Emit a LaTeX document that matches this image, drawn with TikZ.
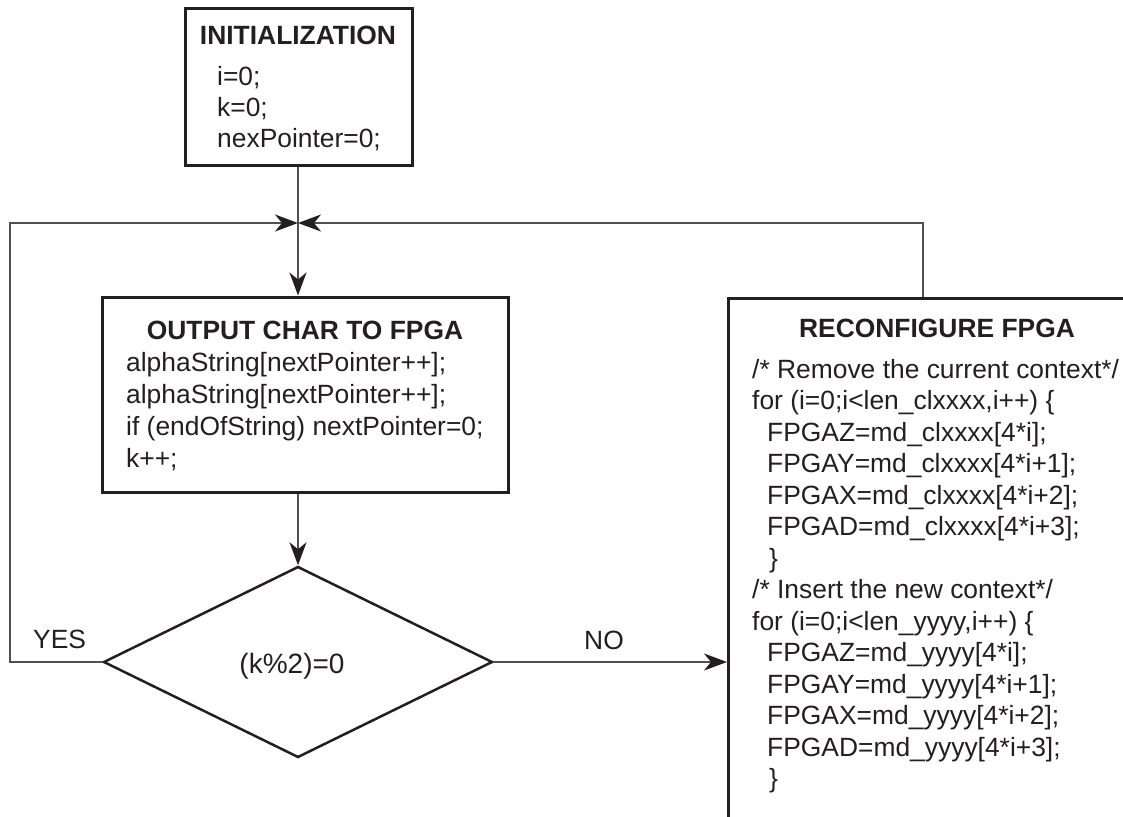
\documentclass[tikz,border=0pt]{standalone}
\usepackage{fontspec}
\setmainfont{Liberation Sans}
\usetikzlibrary{arrows.meta,shapes.geometric}
\definecolor{ink}{HTML}{231F20}
\definecolor{wire}{HTML}{505050}
\begin{document}
\begin{tikzpicture}[x=1pt,y=-1pt,
  every node/.style={text=ink,font=\fontsize{26.4}{31.5}\selectfont,inner sep=0pt},
  boxnode/.style={draw=ink,line width=3pt,rectangle,inner sep=0pt},
  headtxt/.style={font=\fontsize{26.4}{31.5}\selectfont\bfseries,anchor=base},
  bodytxt/.style={align=left,anchor=base west},
  decide/.style={draw=ink,line width=2.5pt,diamond,inner sep=0pt,minimum width=389pt,minimum height=191pt,aspect=2.04},
  conn/.style={draw=wire,line width=1.6pt,-{Stealth[length=23pt,width=17pt,inset=7pt,color=ink]}}
]
\useasboundingbox (0,0) rectangle (1123,816);
\clip (0,0) rectangle (1123,816);

% boxes
\node[boxnode,minimum width=227pt,minimum height=156pt] (init) at (298.5,87) {};
\node[boxnode,minimum width=406pt,minimum height=195pt] (output) at (305,394.5) {};
\node[boxnode,anchor=north west,minimum width=480pt,minimum height=600pt] (reconf) at (727,297) {};
\node[decide] (dia) at (298,662) {};
\node[anchor=base,font=\fontsize{28}{31.5}\selectfont] (diatxt) at (292,673) {(k\%2)=0};

% texts (base anchor = baseline of the last line)
\node[headtxt] (inithead) at (298,45) {INITIALIZATION};
\node[bodytxt,font=\fontsize{26.4}{31}\selectfont] (initbody) at (217,147) {i=0;\\k=0;\\nexPointer=0;};

\node[headtxt] (outhead) at (305,339) {OUTPUT CHAR TO FPGA};
\node[bodytxt,font=\fontsize{26.4}{32}\selectfont] (outbody) at (126,467) {alphaString[nextPointer++];\\alphaString[nextPointer++];\\if (endOfString) nextPointer=0;\\k++;};

\node[headtxt] (rchead) at (937,337) {RECONFIGURE FPGA};
\node[bodytxt] (rcbody) at (752,787.5) {/* Remove the current context*/\\
for (i=0;i<len\_clxxxx,i++) \{\\
\hspace*{15pt}FPGAZ=md\_clxxxx[4*i];\\
\hspace*{15pt}FPGAY=md\_clxxxx[4*i+1];\\
\hspace*{15pt}FPGAX=md\_clxxxx[4*i+2];\\
\hspace*{15pt}FPGAD=md\_clxxxx[4*i+3];\\
\hspace*{17pt}\}\\
/* Insert the new context*/\\
for (i=0;i<len\_yyyy,i++) \{\\
\hspace*{15pt}FPGAZ=md\_yyyy[4*i];\\
\hspace*{15pt}FPGAY=md\_yyyy[4*i+1];\\
\hspace*{15pt}FPGAX=md\_yyyy[4*i+2];\\
\hspace*{15pt}FPGAD=md\_yyyy[4*i+3];\\
\hspace*{17pt}\}};

\node[anchor=base west] (yes) at (33,648) {YES};
\node[anchor=base west] (no) at (584,649) {NO};

% junction and corners
\coordinate (J) at (298,223);
\coordinate (L) at (10,662);
\coordinate (R) at (923,297);

% connectors
\draw[conn] (init.south -| J) -- (J |- output.north);
\draw[conn] (output.south -| dia.north) -- (dia.north);
\draw[conn] (dia.west) -- (L) |- (J);
\draw[conn] (R) |- (J);
\draw[conn] (dia.east) -- (dia.east -| reconf.west);
\end{tikzpicture}
\end{document}
